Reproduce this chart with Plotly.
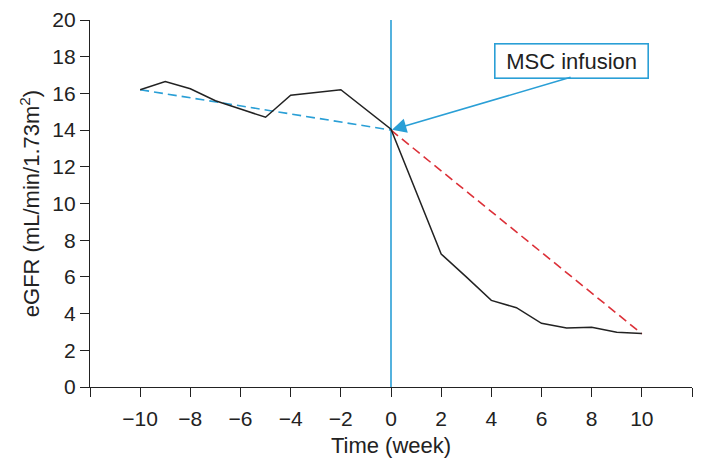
import plotly.graph_objects as go

# Data
weeks = [-10, -9, -8, -7, -6, -5, -4, -2, 0, 2, 3, 4, 5, 6, 7, 8, 9, 10]
egfr = [16.2, 16.65, 16.25, 15.6, 15.15, 14.7, 15.9, 16.2, 14.05, 7.25, 6.0, 4.72, 4.32, 3.47, 3.22, 3.26, 2.98, 2.92]

pre_trend_x = [-10, 0]
pre_trend_y = [16.2, 14.0]
post_trend_x = [0, 10]
post_trend_y = [14.0, 2.9]

infusion_x = [0, 0]
infusion_y = [0, 20]

x_tickvals = [-12, -10, -8, -6, -4, -2, 0, 2, 4, 6, 8, 10, 12]
x_ticktext = ["", "−10", "−8", "−6", "−4", "−2", "0", "2", "4", "6", "8", "10", ""]
y_tickvals = [0, 2, 4, 6, 8, 10, 12, 14, 16, 18, 20]

BLUE = "#2a9fd6"
RED = "#dc3038"
FONT = "Liberation Sans, Arial, sans-serif"
INK = "#222222"

fig = go.Figure()
fig.add_trace(go.Scatter(x=infusion_x, y=infusion_y, mode="lines",
                         line=dict(color=BLUE, width=1.6), cliponaxis=False))
fig.add_trace(go.Scatter(x=pre_trend_x, y=pre_trend_y, mode="lines",
                         line=dict(color=BLUE, width=1.6, dash="9px,5px")))
fig.add_trace(go.Scatter(x=post_trend_x, y=post_trend_y, mode="lines",
                         line=dict(color=RED, width=1.6, dash="9px,5px")))
fig.add_trace(go.Scatter(x=weeks, y=egfr, mode="lines",
                         line=dict(color=INK, width=1.5)))

# Label box
fig.add_annotation(x=7.18, y=17.77, xref="x", yref="y", text="MSC infusion",
                   showarrow=False, font=dict(family=FONT, size=22, color=INK),
                   bordercolor=BLUE, borderwidth=1.6, borderpad=3, bgcolor="white",
                   width=146, height=27)
# Arrow
fig.add_annotation(x=0, y=14.0, xref="x", yref="y", ax=7.22, ay=16.9,
                   axref="x", ayref="y", text="", showarrow=True,
                   arrowhead=2, arrowsize=1.8, arrowwidth=1.6, arrowcolor=BLUE,
                   standoff=1)

fig.update_layout(
    width=702, height=470,
    margin=dict(l=90, r=10, t=20, b=83),
    plot_bgcolor="white", paper_bgcolor="white",
    showlegend=False,
    font=dict(family=FONT, size=21, color=INK),
)
fig.update_xaxes(range=[-12, 12], tickvals=x_tickvals, ticktext=x_ticktext,
                 ticks="outside", ticklen=9, tickwidth=1.2, tickcolor=INK,
                 tickfont=dict(size=21), ticklabelstandoff=4,
                 showline=True, linecolor=INK, linewidth=1.2,
                 showgrid=False, zeroline=False, automargin=False,
                 title=dict(text="Time (week)", standoff=8, font=dict(size=22)))
fig.update_yaxes(range=[0, 20], tickvals=y_tickvals,
                 ticks="outside", ticklen=9, tickwidth=1.2, tickcolor=INK,
                 tickfont=dict(size=21),
                 showline=True, linecolor=INK, linewidth=1.2,
                 showgrid=False, zeroline=False, automargin=False,
                 title=dict(text="eGFR (mL/min/1.73m<sup>2</sup>)", standoff=6,
                            font=dict(size=22)))

fig.write_html("out.html", post_script="document.body.style.margin='0';",
               config={"displayModeBar": False})
